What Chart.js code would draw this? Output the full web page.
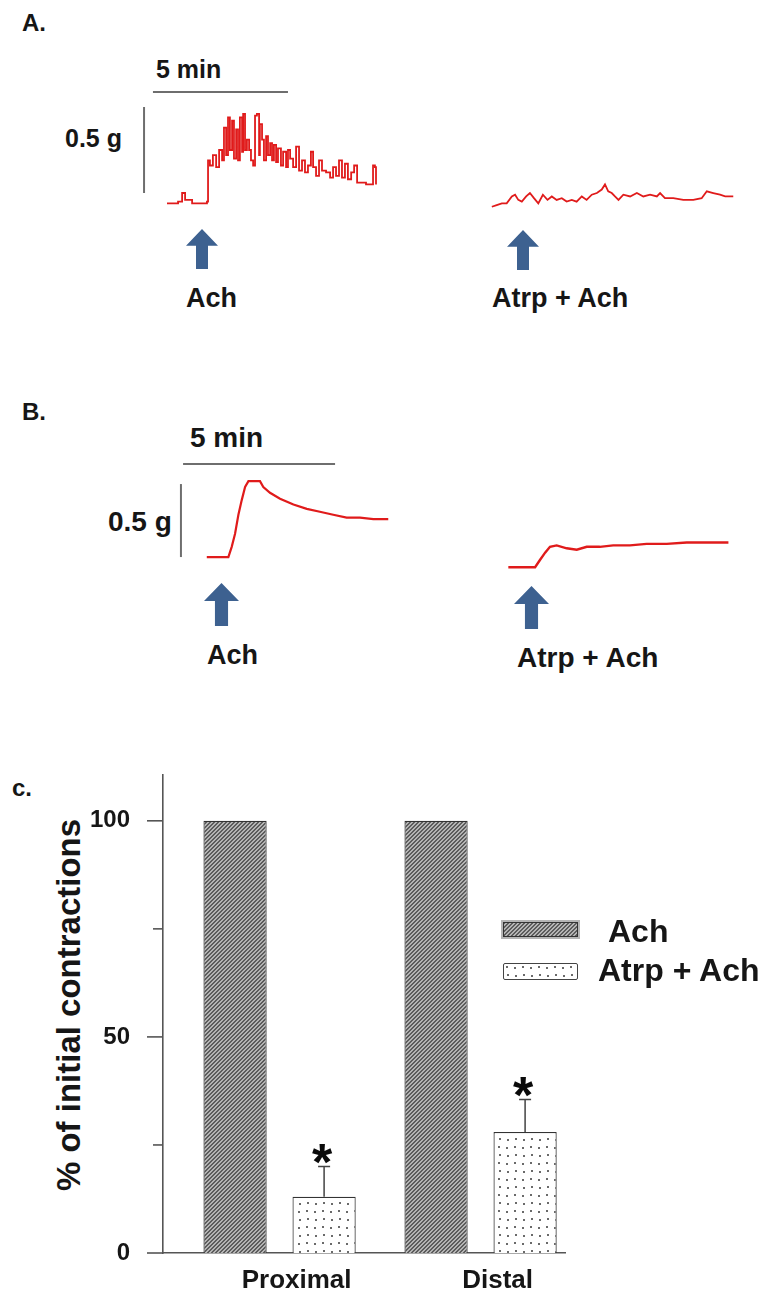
<!DOCTYPE html>
<html>
<head>
<meta charset="utf-8">
<title>Ach contractions</title>
<script src="https://cdn.jsdelivr.net/npm/chart.js@4.4.1/dist/chart.umd.min.js"></script>
<style>
  body { margin: 0; background: #fff; }
  #fig { position: relative; width: 761px; height: 1295px; overflow: hidden;
         font-family: 'Liberation Sans', Arial, sans-serif; font-weight: bold; color: #161616; }
  .t { position: absolute; white-space: nowrap; line-height: 1; }
  .arrow { position: absolute; background: #3d6190;
           clip-path: polygon(50% 0, 100% 42%, 68.75% 42%, 68.75% 100%, 31.25% 100%, 31.25% 42%, 0 42%); }
  canvas { position: absolute; }
  .sw { position: absolute; box-sizing: border-box; }
</style>
</head>
<body>
<div id="fig">
  <!-- panel A -->
  <div class="t" style="left:22px;top:11px;font-size:24px">A.</div>
  <div class="t" style="left:156px;top:57px;font-size:25px">5 min</div>
  <div class="t" style="left:65px;top:126px;font-size:25px">0.5 g</div>
  <canvas id="chartA" width="620" height="140" style="left:130px;top:85px"></canvas>
  <div class="arrow" style="left:186px;top:229px;width:32px;height:40px"></div>
  <div class="arrow" style="left:507px;top:230px;width:32px;height:40px"></div>
  <div class="t" style="left:186px;top:285px;font-size:27px">Ach</div>
  <div class="t" style="left:492px;top:285px;font-size:27px">Atrp + Ach</div>

  <!-- panel B -->
  <div class="t" style="left:22px;top:400px;font-size:24px">B.</div>
  <div class="t" style="left:190px;top:424px;font-size:28px">5 min</div>
  <div class="t" style="left:108px;top:508px;font-size:28px">0.5 g</div>
  <canvas id="chartB" width="580" height="120" style="left:170px;top:455px"></canvas>
  <div class="arrow" style="left:204px;top:583px;width:35px;height:43px"></div>
  <div class="arrow" style="left:514px;top:586px;width:35px;height:43px"></div>
  <div class="t" style="left:207px;top:642px;font-size:27px">Ach</div>
  <div class="t" style="left:517px;top:644px;font-size:28px">Atrp + Ach</div>

  <!-- panel C -->
  <div class="t" style="left:12px;top:776px;font-size:24px">c.</div>
  <div class="t" style="left:68px;top:1005px;font-size:33px;transform:translate(-50%,-50%) rotate(-90deg)">% of initial contractions</div>
  <canvas id="chartC" width="761" height="535" style="left:0;top:760px"></canvas>
  <div class="sw" id="swAch" style="left:503px;top:922px;width:75px;height:15px;border:1px solid #333;box-shadow:0 0 0 2px #b5b5b5"></div>
  <div class="sw" id="swAtrp" style="left:503px;top:963px;width:75px;height:17px;border:1.5px solid #444;border-radius:2px"></div>
  <div class="t" style="left:608px;top:915px;font-size:32px">Ach</div>
  <div class="t" style="left:598px;top:954px;font-size:32px">Atrp + Ach</div>
</div>

<script>
// ---- Panel A traces (time in min, force in g above baseline) ----
const traceA1Min = [1.37,1.78,1.93,2.04,2.30,2.59,2.85,2.89,2.96,3.07,3.19,3.30,3.41,3.48,3.56,3.63,3.70,3.78,3.85,3.93,
  4.00,4.07,4.15,4.19,4.26,4.33,4.41,4.48,4.56,4.63,4.70,4.78,4.81,4.89,4.96,5.04,5.11,5.19,5.26,5.33,
  5.41,5.48,5.59,5.67,5.78,5.85,5.93,6.04,6.15,6.26,6.37,6.48,6.59,6.70,6.78,6.89,7.00,7.11,7.26,7.41,
  7.52,7.63,7.74,7.85,7.96,8.07,8.19,8.30,8.41,8.56,8.74,8.96,9.00,9.07,9.11];
const traceA1G = [0.01,0.02,0.07,0.03,0.01,0.01,0.02,0.26,0.23,0.29,0.22,0.32,0.26,0.45,0.29,0.51,0.32,0.49,0.27,0.44,
  0.26,0.51,0.31,0.53,0.32,0.38,0.32,0.26,0.23,0.52,0.53,0.29,0.47,0.38,0.26,0.40,0.29,0.36,0.26,0.35,
  0.25,0.33,0.23,0.31,0.22,0.32,0.27,0.22,0.34,0.20,0.26,0.19,0.23,0.31,0.22,0.17,0.26,0.20,0.19,0.16,
  0.22,0.17,0.26,0.16,0.24,0.15,0.19,0.23,0.13,0.13,0.12,0.12,0.23,0.22,0.12];
const traceA2Min = [13.40,13.58,13.77,13.95,14.14,14.26,14.38,14.51,14.67,14.81,14.96,15.12,15.29,15.46,15.62,15.80,
  15.99,16.17,16.36,16.54,16.73,16.91,17.10,17.29,17.47,17.59,17.71,17.84,17.96,18.09,18.27,18.52,18.77,19.01,
  19.26,19.51,19.63,19.81,20.12,20.49,20.86,21.17,21.36,21.60,21.85,22.04,22.34];
const traceA2G = [-0.01,0,0.01,0.01,0.05,0.06,0.03,0.02,0.05,0.07,0.04,0.01,0.06,0.03,0.05,0.03,
  0.04,0.02,0.03,0.02,0.05,0.03,0.06,0.07,0.09,0.12,0.08,0.07,0.05,0.03,0.06,0.05,0.07,0.05,
  0.06,0.05,0.07,0.04,0.04,0.03,0.03,0.04,0.08,0.07,0.06,0.05,0.05];

// ---- Panel B traces ----
const traceB1Min = [1.21,1.92,2.03,2.14,2.25,2.36,2.47,2.58,2.96,3.07,3.29,3.62,4.06,4.50,4.93,5.37,5.81,6.25,6.69,7.18];
const traceB1G = [0,0,0.07,0.16,0.29,0.39,0.48,0.52,0.52,0.48,0.44,0.40,0.36,0.33,0.31,0.29,0.27,0.27,0.26,0.26];
const traceB2Min = [11.13,12.01,12.17,12.34,12.50,12.72,13.05,13.38,13.71,14.14,14.58,15.13,15.68,16.34,17.00,17.65,18.37];
const traceB2G = [-0.07,-0.07,-0.02,0.03,0.07,0.08,0.06,0.05,0.07,0.07,0.08,0.08,0.09,0.09,0.10,0.10,0.10];

// scale bars: 5 min and 0.5 g
const scaleMin = 5;
const scaleG = 0.5;

// ---- Panel C bars ----
const groups = ['Proximal', 'Distal'];
const groupPos = [0, 1];
const achMean = [100, 100];
const atrpMean = [13, 28];
const atrpErr = [7, 7.5];
const yTickValues = [0, 25, 50, 75, 100];

const RED = '#e01b1b';
const BAR_GRAY = '#6e6e6e';
const FONT = "'Liberation Sans', Arial, sans-serif";

function line(xs, ys, color, width, stepped) {
  return { data: xs.map((x, i) => ({ x, y: ys[i] })), showLine: true, borderColor: color,
           borderWidth: width, pointRadius: 0, tension: 0, fill: false, stepped: !!stepped };
}

function traceChart(id, xMax, yMin, yMax, sets) {
  return new Chart(document.getElementById(id), {
    type: 'scatter',
    data: { datasets: sets },
    options: {
      responsive: false, animation: false,
      layout: { padding: 0 },
      plugins: { legend: { display: false }, tooltip: { enabled: false } },
      scales: {
        x: { type: 'linear', display: false, min: 0, max: xMax },
        y: { type: 'linear', display: false, min: yMin, max: yMax }
      }
    }
  });
}

// panel A: 27 px per min, 172 px per g
traceChart('chartA', 22.96, -0.116, 0.698, [
  line([0.85, 0.85 + scaleMin], [0.657, 0.657], BAR_GRAY, 2),
  line([0.52, 0.52], [0.07, 0.07 + scaleG], BAR_GRAY, 2),
  line(traceA1Min, traceA1G, RED, 1.8, true),
  line(traceA2Min, traceA2G, RED, 1.8)
]);

// panel B: 30.4 px per min, 146 px per g
traceChart('chartB', 19.08, -0.123, 0.699, [
  line([0.43, 0.43 + scaleMin], [0.637, 0.637], BAR_GRAY, 2),
  line([0.36, 0.36], [0, scaleG], BAR_GRAY, 2),
  line(traceB1Min, traceB1G, RED, 2.2),
  line(traceB2Min, traceB2G, RED, 2.4)
]);

// fill patterns
function hatchTile() {
  const c = document.createElement('canvas');
  c.width = 4; c.height = 4;
  const g = c.getContext('2d');
  g.fillStyle = '#b4b4b4'; g.fillRect(0, 0, 4, 4);
  g.fillStyle = '#5c5c5c';
  for (let i = 0; i < 4; i++) {
    g.fillRect(i, 3 - i, 1, 1);
    g.fillRect((i + 1) % 4, 3 - i, 1, 1);
  }
  return c;
}
function dotTile() {
  const c = document.createElement('canvas');
  c.width = 16; c.height = 16;
  const g = c.getContext('2d');
  g.fillStyle = '#ffffff'; g.fillRect(0, 0, 16, 16);
  g.fillStyle = '#6a6a6a';
  [[2, 2], [10, 3], [3, 10], [11, 11]].forEach(([x, y]) => g.fillRect(x, y, 2, 2));
  return c;
}
const hatchCanvas = hatchTile();
const dotCanvas = dotTile();
const ctxC = document.getElementById('chartC').getContext('2d');
const hatch = ctxC.createPattern(hatchCanvas, 'repeat');
const dots = ctxC.createPattern(dotCanvas, 'repeat');
document.getElementById('swAch').style.background = `url(${hatchCanvas.toDataURL()})`;
document.getElementById('swAtrp').style.background = `url(${dotCanvas.toDataURL()})`;

// y tick marks, long at labelled values
const yTickMarks = {
  id: 'yTickMarks',
  afterDraw(chart) {
    const { ctx, scales: { y }, chartArea } = chart;
    ctx.save();
    ctx.strokeStyle = '#555'; ctx.lineWidth = 1.6;
    yTickValues.forEach(v => {
      const py = y.getPixelForValue(v);
      const len = v % 50 === 0 ? 16 : 10;
      ctx.beginPath();
      ctx.moveTo(chartArea.left - len, py);
      ctx.lineTo(chartArea.left, py);
      ctx.stroke();
    });
    ctx.restore();
  }
};

// error bars + significance stars on the atropine bars
const errorStars = {
  id: 'errorStars',
  afterDatasetsDraw(chart) {
    const { ctx, scales: { y } } = chart;
    const meta = chart.getDatasetMeta(1);
    ctx.save();
    meta.data.forEach((bar, i) => {
      const yTop = y.getPixelForValue(atrpMean[i] + atrpErr[i]);
      ctx.strokeStyle = '#444'; ctx.lineWidth = 1.5;
      ctx.beginPath();
      ctx.moveTo(bar.x, bar.y);
      ctx.lineTo(bar.x, yTop);
      ctx.moveTo(bar.x - 6, yTop);
      ctx.lineTo(bar.x + 6, yTop);
      ctx.stroke();
      ctx.fillStyle = '#0a0a0a';
      ctx.font = `bold 52px ${FONT}`;
      ctx.textAlign = 'center';
      ctx.textBaseline = 'alphabetic';
      ctx.fillText('*', bar.x - 2, yTop - 17 + 30);
    });
    ctx.restore();
  }
};

new Chart(document.getElementById('chartC'), {
  type: 'bar',
  data: {
    datasets: [
      { label: 'Ach', data: groupPos.map((x, i) => ({ x, y: achMean[i] })),
        backgroundColor: hatch, borderColor: '#333', borderWidth: 1.2,
        categoryPercentage: 0.886, barPercentage: 0.71 },
      { label: 'Atrp + Ach', data: groupPos.map((x, i) => ({ x, y: atrpMean[i] })),
        backgroundColor: dots, borderColor: '#333', borderWidth: 1.2,
        categoryPercentage: 0.886, barPercentage: 0.71 }
    ]
  },
  options: {
    responsive: false, animation: false,
    layout: { padding: { top: 15, right: 196, left: 0, bottom: 0 } },
    plugins: { legend: { display: false }, tooltip: { enabled: false } },
    scales: {
      x: {
        type: 'linear', offset: false, min: -0.58, max: 1.42,
        grid: { display: false, drawTicks: false },
        border: { display: true, color: '#555', width: 1.6 },
        afterBuildTicks: s => { s.ticks = groupPos.map(v => ({ value: v })); },
        afterFit: s => { s.height = 42; s.paddingLeft = 0; s.paddingRight = 0; },
        ticks: { callback: (v, i) => groups[i], labelOffset: 17, padding: 12, autoSkip: false, maxRotation: 0,
                 color: '#161616', font: { family: FONT, size: 26, weight: 'bold' } }
      },
      y: {
        min: 0, max: 110.6,
        grid: { display: false, drawTicks: false },
        border: { display: true, color: '#555', width: 1.6 },
        afterBuildTicks: s => { s.ticks = yTickValues.map(v => ({ value: v })); },
        afterFit: s => { s.width = 163; s.paddingTop = 0; s.paddingBottom = 0; },
        ticks: { callback: v => (v % 50 === 0 ? String(v) : ''), padding: 33,
                 color: '#161616', font: { family: FONT, size: 24, weight: 'bold' } }
      }
    }
  },
  plugins: [yTickMarks, errorStars]
});
</script>
</body>
</html>
